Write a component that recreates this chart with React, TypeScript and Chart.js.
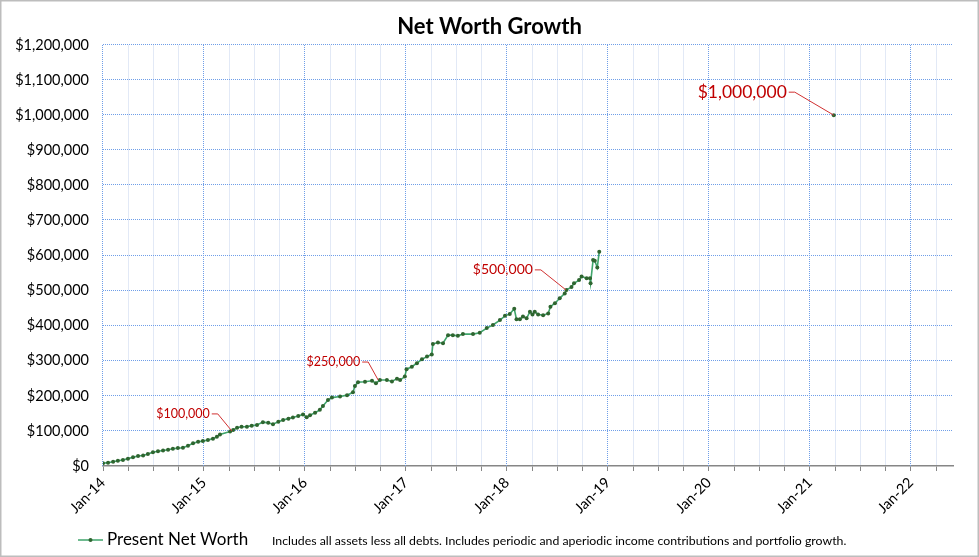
import React, { useEffect, useRef } from 'react';
import { Chart, registerables } from 'chart.js';

Chart.register(...registerables);

const FONT = 'Lato, "Open Sans", sans-serif';

// Net worth readings
const readingDates: string[] = [
  '2014-01-01', '2014-01-19', '2014-02-07', '2014-02-24', '2014-03-12', '2014-03-30',
  '2014-04-18', '2014-05-06', '2014-05-24', '2014-06-11', '2014-06-29', '2014-07-17',
  '2014-08-05', '2014-08-23', '2014-09-10', '2014-09-28', '2014-10-16', '2014-11-04',
  '2014-11-22', '2014-12-10', '2014-12-27', '2015-01-15', '2015-02-03', '2015-02-17',
  '2015-02-28', '2015-04-04', '2015-04-15', '2015-04-29', '2015-05-15', '2015-06-04',
  '2015-06-21', '2015-07-10', '2015-08-01', '2015-08-20', '2015-09-07', '2015-09-26',
  '2015-10-13', '2015-11-02', '2015-11-18', '2015-12-07', '2015-12-24', '2016-01-07',
  '2016-01-19', '2016-02-07', '2016-02-24', '2016-03-05', '2016-03-23', '2016-04-07',
  '2016-05-06', '2016-05-31', '2016-06-22', '2016-06-29', '2016-07-10', '2016-08-05',
  '2016-08-30', '2016-09-14', '2016-09-28', '2016-10-23', '2016-11-11', '2016-11-29',
  '2016-12-10', '2016-12-27', '2017-01-03', '2017-01-22', '2017-02-10', '2017-02-28',
  '2017-03-16', '2017-04-03', '2017-04-07', '2017-04-25', '2017-05-13', '2017-05-31',
  '2017-06-18', '2017-07-06', '2017-07-24', '2017-08-30', '2017-09-24', '2017-10-19',
  '2017-11-11', '2017-12-06', '2017-12-24', '2018-01-11', '2018-01-27', '2018-02-05',
  '2018-02-17', '2018-02-28', '2018-03-11', '2018-03-23', '2018-04-02', '2018-04-10',
  '2018-04-22', '2018-05-10', '2018-05-28', '2018-06-06', '2018-06-22', '2018-07-09',
  '2018-07-27', '2018-08-03', '2018-08-21', '2018-08-30', '2018-09-18', '2018-09-27',
  '2018-10-15', '2018-10-27', '2018-10-29', '2018-11-08', '2018-11-14', '2018-11-23',
  '2018-11-30',
];

const readingValues: number[] = [
  8000, 9500, 12000, 15000, 17000, 21000,
  25000, 28500, 30000, 34000, 39000, 42000,
  44000, 46500, 49000, 51000, 52000, 58000,
  65000, 69000, 71000, 74000, 78000, 83500,
  90000, 98000, 102600, 109000, 112000, 112000,
  115000, 117000, 125000, 123000, 119000, 126000,
  131000, 135000, 138000, 142500, 147000, 139000,
  145000, 152000, 160000, 171000, 188000, 195000,
  198000, 202000, 210000, 228000, 239000, 240000,
  243000, 236000, 245000, 245000, 241000, 249000,
  245000, 255000, 276000, 283000, 293000, 304000,
  312000, 318000, 348000, 352000, 350000, 373000,
  373000, 371000, 376000, 376000, 380000, 393000,
  402000, 416000, 428000, 433000, 448000, 418000,
  418000, 426000, 421000, 440000, 432000, 440000,
  432000, 430000, 435000, 454000, 464000, 478000,
  492000, 502000, 510000, 521000, 530000, 540000,
  535000, 535000, 521000, 587000, 585000, 566000,
  611000,
];

const goalDate = '2021-03-26';
const goalValue = 1000000;

const milestoneLabels = ['$100,000', '$250,000', '$500,000', '$1,000,000'];
const milestoneDates = ['2015-04-10', '2016-09-22', '2018-08-01', '2021-03-26'];
const milestoneValues = [100000, 245000, 502000, 1000000];

const chartTitle = 'Net Worth Growth';
const legendLabel = 'Present Net Worth';
const legendNote =
  'Includes all assets less all debts. Includes periodic and aperiodic income contributions and portfolio growth.';

const monthsSince = (iso: string) => {
  const [y, m, d] = iso.split('-').map(Number);
  return (y - 2014) * 12 + (m - 1) + (d - 1) / 30;
};

const LINE = '#3fa56b';
const MARK = '#2f6530';
const RED = '#c00000';
const GRID_MAJOR = '#6f9ee8';
const GRID_MINOR = '#e2e9f6';

// leader-line stub offsets from each milestone point, and label sizes
const calloutStyle = [
  { dx: -14, dy: -17, size: 12.5 },
  { dx: -10, dy: -18, size: 12.5 },
  { dx: -25, dy: -20, size: 14 },
  { dx: -39, dy: -23, size: 17.5 },
];

const NetWorthChart: React.FC = () => {
  const chartRef = useRef<HTMLCanvasElement>(null);
  const chartInstance = useRef<Chart | null>(null);

  useEffect(() => {
    document.body.style.margin = '0';
    if (!chartRef.current) return;
    if (chartInstance.current) chartInstance.current.destroy();

    // dotted major gridlines (years / every $100k), drawn as single pixels
    const dottedGrid = {
      id: 'dottedGrid',
      beforeDatasetsDraw(chart: Chart) {
        const { ctx, chartArea: a } = chart;
        const xs = chart.scales.x;
        const ys = chart.scales.y;
        ctx.save();
        ctx.fillStyle = GRID_MAJOR;
        xs.ticks.forEach((t) => {
          if (t.value % 12 !== 0) return;
          const px = Math.round(xs.getPixelForValue(t.value)) - 1;
          for (let y = Math.round(a.top); y < a.bottom; y += 2) ctx.fillRect(px, y, 1, 1);
        });
        ys.ticks.forEach((t) => {
          if (t.value === 0) return;
          const py = Math.round(ys.getPixelForValue(t.value)) - 1;
          for (let x = Math.round(a.left); x < a.right; x += 2) ctx.fillRect(x, py, 1, 1);
        });
        ctx.restore();
      },
    };

    const callouts = {
      id: 'callouts',
      afterDatasetsDraw(chart: Chart) {
        const { ctx } = chart;
        const xs = chart.scales.x;
        const ys = chart.scales.y;
        ctx.save();
        milestoneLabels.forEach((label, i) => {
          const st = calloutStyle[i];
          const ax = xs.getPixelForValue(monthsSince(milestoneDates[i]));
          const ay = ys.getPixelForValue(milestoneValues[i]);
          const ex = ax + st.dx;
          const ey = ay + st.dy;
          const sx = ex - 6;
          ctx.strokeStyle = '#d03030';
          ctx.lineWidth = 1;
          ctx.beginPath();
          ctx.moveTo(sx, ey);
          ctx.lineTo(ex, ey);
          ctx.lineTo(ax, ay);
          ctx.stroke();
          ctx.fillStyle = RED;
          ctx.font = `${st.size}px ${FONT}`;
          ctx.textAlign = 'right';
          ctx.textBaseline = 'middle';
          ctx.fillText(label, sx - 2, ey);
        });
        ctx.restore();
      },
    };

    const titleLegendFrame = {
      id: 'titleLegendFrame',
      afterDraw(chart: Chart) {
        const { ctx } = chart;
        ctx.save();
        ctx.fillStyle = '#000';
        ctx.textAlign = 'center';
        ctx.textBaseline = 'middle';
        ctx.font = `bold 22px ${FONT}`;
        ctx.fillText(chartTitle, chart.width / 2, 27);

        const ly = 540;
        ctx.strokeStyle = LINE;
        ctx.lineWidth = 1.5;
        ctx.beginPath();
        ctx.moveTo(78, ly);
        ctx.lineTo(103, ly);
        ctx.stroke();
        ctx.fillStyle = MARK;
        ctx.beginPath();
        ctx.arc(90.5, ly, 2, 0, Math.PI * 2);
        ctx.fill();
        ctx.fillStyle = '#000';
        ctx.textAlign = 'left';
        ctx.font = `17px ${FONT}`;
        ctx.fillText(legendLabel, 107, ly);
        ctx.font = `12.3px ${FONT}`;
        ctx.fillText(legendNote, 272, ly + 1);

        ctx.strokeStyle = '#bdbdbd';
        ctx.lineWidth = 1.5;
        ctx.strokeRect(0.75, 0.75, chart.width - 1.5, chart.height - 1.5);
        ctx.restore();
      },
    };

    const ctx = chartRef.current.getContext('2d');
    if (!ctx) return;

    chartInstance.current = new Chart(ctx, {
      type: 'line',
      data: {
        datasets: [
          {
            label: legendLabel,
            data: readingDates.map((d, i) => ({ x: monthsSince(d), y: readingValues[i] })),
            borderColor: LINE,
            borderWidth: 1.6,
            pointRadius: 2,
            pointBackgroundColor: MARK,
            pointBorderColor: MARK,
            pointBorderWidth: 0,
            tension: 0,
          },
          {
            label: 'Goal',
            data: [{ x: monthsSince(goalDate), y: goalValue }],
            showLine: false,
            pointRadius: 2,
            pointBackgroundColor: MARK,
            pointBorderColor: MARK,
            pointBorderWidth: 0,
          },
        ],
      },
      options: {
        responsive: false,
        animation: false,
        layout: { padding: { left: 0, right: 26, top: 45, bottom: 0 } },
        plugins: {
          legend: { display: false },
          tooltip: { enabled: false },
          title: { display: false },
        },
        scales: {
          x: {
            type: 'linear',
            position: 'bottom',
            min: 0,
            max: 101,
            afterFit: (s: any) => {
              s.height = 91;
            },
            ticks: {
              stepSize: 3,
              includeBounds: false,
              autoSkip: false,
              maxRotation: 45,
              minRotation: 45,
              padding: 3,
              color: '#000',
              font: { family: FONT, size: 14.5 },
              callback: (v: any) => {
                const n = Number(v);
                return n % 12 === 0 ? `Jan-${14 + n / 12}` : '';
              },
            },
            grid: {
              color: (c: any) => (c.tick && c.tick.value % 12 === 0 ? 'rgba(0,0,0,0)' : GRID_MINOR),
              tickColor: '#868686',
              tickLength: 5,
            },
            border: { display: true, color: '#868686', width: 1.5 },
          },
          y: {
            min: 0,
            max: 1200000,
            afterFit: (s: any) => {
              s.width = 103;
            },
            ticks: {
              stepSize: 100000,
              padding: 14,
              color: '#000',
              font: { family: FONT, size: 14.5 },
              callback: (v: any) => '$' + Number(v).toLocaleString('en-US'),
            },
            grid: { display: false, drawTicks: false },
            border: { display: false },
          },
        },
      },
      plugins: [dottedGrid, callouts, titleLegendFrame],
    });

    return () => {
      if (chartInstance.current) {
        chartInstance.current.destroy();
        chartInstance.current = null;
      }
    };
  }, []);

  return (
    <div style={{ width: 979, height: 557 }}>
      <canvas ref={chartRef} width={979} height={557} style={{ display: 'block' }} />
    </div>
  );
};

export default function App() {
  return <NetWorthChart />;
}
